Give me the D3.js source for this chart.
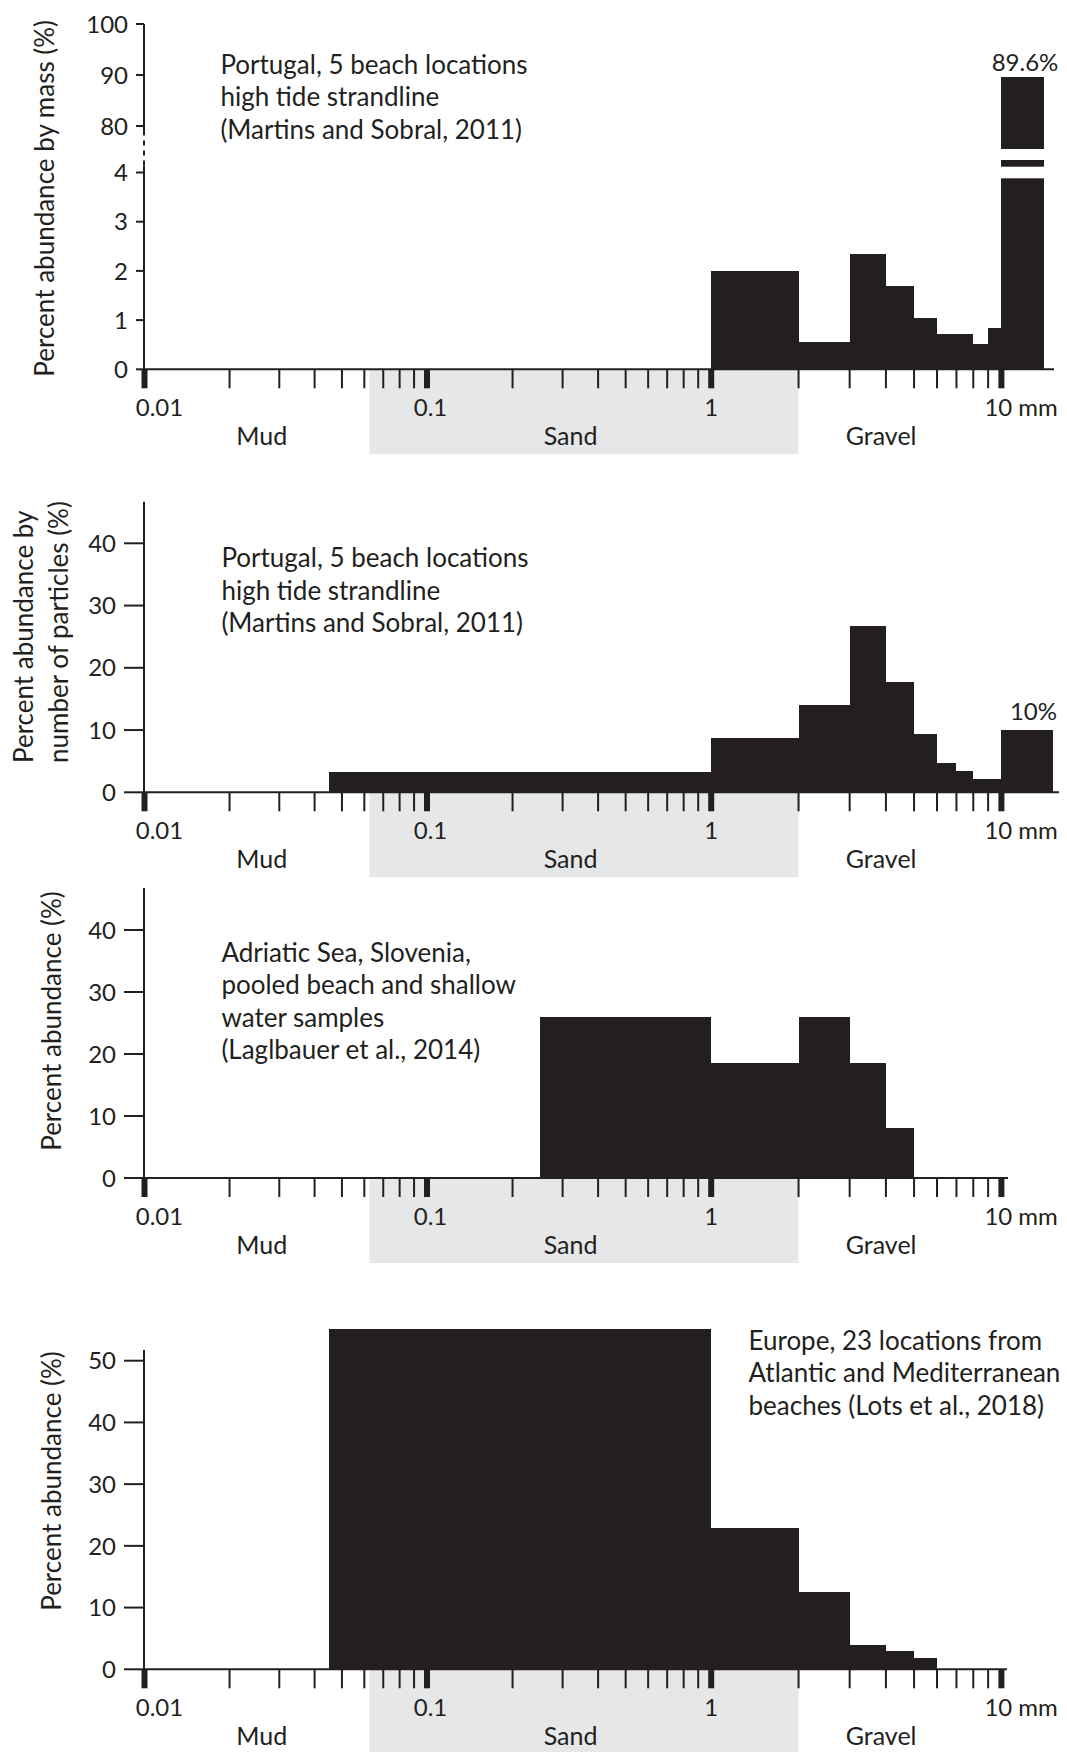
<!DOCTYPE html>
<html>
<head>
<meta charset="utf-8">
<script src="https://cdn.jsdelivr.net/npm/d3@7"></script>
<style>
  body { margin: 0; background: #fff; }
  svg { display: block; }
  text { font-family: Lato, "Open Sans", sans-serif; fill: #231f20; }
</style>
</head>
<body>
<div id="chart"></div>
<script>
// particle size classes (mm)
const sizeClasses = ["Mud", "Sand", "Gravel"];
const sizeClassAt = [0.026, 0.32, 3.85];
const sandRange = [0.0625, 2];
const xTickLabels = ["0.01", "0.1", "1", "10 mm"];

// Portugal, by mass (Martins and Sobral, 2011)
const massEdges = [1, 2, 3, 4, 5, 6, 8, 9, 10, 14];
const massValues = [2.0, 0.56, 2.35, 1.69, 1.04, 0.72, 0.52, 0.84, 89.6];
const massTicks = [0, 1, 2, 3, 4, 80, 90, 100];

// Portugal, by number of particles (Martins and Sobral, 2011)
const countEdges = [0.045, 1, 2, 3, 4, 5, 6, 7, 8, 10, 15];
const countValues = [3.2, 8.7, 14.1, 26.7, 17.7, 9.4, 4.7, 3.4, 2.2, 10];

// Adriatic Sea, Slovenia (Laglbauer et al., 2014)
const sloveniaEdges = [0.25, 1, 2, 3, 4, 5];
const sloveniaValues = [25.9, 18.5, 25.9, 18.5, 8.0];

// Europe, 23 locations (Lots et al., 2018)
const europeEdges = [0.045, 1, 2, 3, 4, 5, 6];
const europeValues = [55.1, 22.9, 12.5, 3.9, 3.0, 1.8];

const ticks40 = [0, 10, 20, 30, 40];
const ticks50 = [0, 10, 20, 30, 40, 50];

const INK = "#231f20";
const SAND = "#e6e7e8";
const AXIS_X = 144;

const panels = [
  { edges: massEdges, values: massValues, ticks: massTicks,
    yDomain: [0, 4, 80, 100], yRange: [369.3, 172.5, 126, 24], axisTop: 24, tickLen: 8,
    axisEnd: 1054, broken: true, barLabel: { text: "89.6%", dx: 2.4, dy: -6 },
    title: ["Percent abundance by mass (%)"], titleX: [54], titleY: 198.3, titleAnchor: "middle",
    note: ["Portugal, 5 beach locations", "high tide strandline", "(Martins and Sobral, 2011)"],
    noteX: 220.4, noteY: 74 },
  { edges: countEdges, values: countValues, ticks: ticks40,
    yDomain: [0, 40], yRange: [792.3, 543.3], axisTop: 501.7, tickLen: 20,
    axisEnd: 1059, barLabel: { text: "10%", dx: 6.5, dy: -10 },
    title: ["Percent abundance by", "number of particles (%)"], titleX: [32.8, 67.8], titleY: 763, titleAnchor: "start",
    note: ["Portugal, 5 beach locations", "high tide strandline", "(Martins and Sobral, 2011)"],
    noteX: 221.4, noteY: 567.3 },
  { edges: sloveniaEdges, values: sloveniaValues, ticks: ticks40,
    yDomain: [0, 40], yRange: [1178, 930], axisTop: 888, tickLen: 20,
    axisEnd: 1008,
    title: ["Percent abundance (%)"], titleX: [61], titleY: 1021, titleAnchor: "middle",
    note: ["Adriatic Sea, Slovenia,", "pooled beach and shallow", "water samples", "(Laglbauer et al., 2014)"],
    noteX: 221.4, noteY: 961.7 },
  { edges: europeEdges, values: europeValues, ticks: ticks50,
    yDomain: [0, 50], yRange: [1669.3, 1360.7], axisTop: 1350, tickLen: 20,
    axisEnd: 1007,
    title: ["Percent abundance (%)"], titleX: [61], titleY: 1481, titleAnchor: "middle",
    note: ["Europe, 23 locations from", "Atlantic and Mediterranean", "beaches (Lots et al., 2018)"],
    noteX: 748.5, noteY: 1350 }
];

const svg = d3.select("#chart").append("svg")
    .attr("width", 1067)
    .attr("height", 1752);

// the printed decades are not quite equal, so one range stop per decade
const x = d3.scaleLog().domain([0.01, 0.1, 1, 10]).range([144.5, 427, 711.2, 1001.4]);
const xTicks = x.ticks();
const majorTicks = [0.01, 0.1, 1, 10];
const labelDx = [15, 3.5, 0, -17];

panels.forEach(drawPanel);

function drawPanel(p) {
    const y = d3.scaleLinear().domain(p.yDomain).range(p.yRange);
    const base = y(0);
    const g = svg.append("g");

    // sand band under the axis
    g.append("rect")
        .attr("x", x(sandRange[0]))
        .attr("width", x(sandRange[1]) - x(sandRange[0]))
        .attr("y", base)
        .attr("height", 85)
        .attr("fill", SAND);

    const bins = p.values.map((v, i) => ({ x0: p.edges[i], x1: p.edges[i + 1], v }));

    g.selectAll("rect.bar")
        .data(bins)
        .join("rect")
        .attr("class", "bar")
        .attr("x", d => x(d.x0))
        .attr("width", d => x(d.x1) - x(d.x0))
        .attr("y", d => y(d.v))
        .attr("height", d => base - y(d.v))
        .attr("fill", INK)
        .attr("shape-rendering", "crispEdges");

    if (p.broken) {
        // white cuts through the bar that runs over the scale break
        const y4 = y(p.yDomain[1]);
        const tall = bins.filter(d => d.v > p.yDomain[1]);
        [[-23.5, -12.5], [-5.8, 5.8]].forEach(([a, b]) => {
            g.selectAll(null)
                .data(tall)
                .join("rect")
                .attr("x", d => x(d.x0) - 1)
                .attr("width", d => x(d.x1) - x(d.x0) + 2)
                .attr("y", y4 + a)
                .attr("height", b - a)
                .attr("fill", "#fff");
        });
    }

    if (p.barLabel) {
        const last = bins[bins.length - 1];
        g.append("text")
            .attr("x", (x(last.x0) + x(last.x1)) / 2 + p.barLabel.dx)
            .attr("y", y(last.v) + p.barLabel.dy)
            .attr("text-anchor", "middle")
            .attr("font-size", 24)
            .text(p.barLabel.text);
    }

    // y axis
    if (p.broken) {
        const y4 = y(p.yDomain[1]), y80 = y(p.yDomain[2]);
        g.append("line").attr("x1", AXIS_X).attr("x2", AXIS_X)
            .attr("y1", base + 1).attr("y2", y4 - 7)
            .attr("stroke", INK).attr("stroke-width", 2);
        g.append("line").attr("x1", AXIS_X).attr("x2", AXIS_X)
            .attr("y1", y4 - 7).attr("y2", y80 + 5)
            .attr("stroke", INK).attr("stroke-width", 2)
            .attr("stroke-dasharray", "5,5");
        g.append("line").attr("x1", AXIS_X).attr("x2", AXIS_X)
            .attr("y1", y80 + 5).attr("y2", p.axisTop)
            .attr("stroke", INK).attr("stroke-width", 2);
    } else {
        g.append("line").attr("x1", AXIS_X).attr("x2", AXIS_X)
            .attr("y1", base + 1).attr("y2", p.axisTop)
            .attr("stroke", INK).attr("stroke-width", 2);
    }

    g.selectAll("line.ytick")
        .data(p.ticks)
        .join("line")
        .attr("class", "ytick")
        .attr("x1", AXIS_X - p.tickLen)
        .attr("x2", AXIS_X)
        .attr("y1", d => y(d))
        .attr("y2", d => y(d))
        .attr("stroke", INK)
        .attr("stroke-width", 2);

    g.selectAll("text.ytick")
        .data(p.ticks)
        .join("text")
        .attr("class", "ytick")
        .attr("x", AXIS_X - p.tickLen - 8)
        .attr("y", d => y(d))
        .attr("dy", "0.36em")
        .attr("text-anchor", "end")
        .attr("font-size", 24)
        .text(d => d);

    // x axis
    g.append("line")
        .attr("x1", AXIS_X).attr("x2", p.axisEnd)
        .attr("y1", base).attr("y2", base)
        .attr("stroke", INK).attr("stroke-width", 2);

    g.selectAll("line.xtick")
        .data(xTicks)
        .join("line")
        .attr("class", "xtick")
        .attr("x1", d => x(d)).attr("x2", d => x(d))
        .attr("y1", base).attr("y2", base + 19)
        .attr("stroke", INK)
        .attr("stroke-width", d => majorTicks.includes(+d.toPrecision(6)) ? 6 : 2);

    g.selectAll("text.xtick")
        .data(majorTicks)
        .join("text")
        .attr("class", "xtick")
        .attr("x", (d, i) => x(d) + labelDx[i])
        .attr("y", base + 46.5)
        .attr("text-anchor", (d, i) => i === 3 ? "start" : "middle")
        .attr("font-size", 24)
        .text((d, i) => xTickLabels[i]);

    g.selectAll("text.sizeclass")
        .data(sizeClasses)
        .join("text")
        .attr("class", "sizeclass")
        .attr("x", (d, i) => x(sizeClassAt[i]))
        .attr("y", base + 75.5)
        .attr("text-anchor", "middle")
        .attr("font-size", 25)
        .text(d => d);

    // y axis title
    p.title.forEach((t, i) => {
        g.append("text")
            .attr("transform", `translate(${p.titleX[i]},${p.titleY}) rotate(-90)`)
            .attr("text-anchor", p.titleAnchor)
            .attr("font-size", 26)
            .text(t);
    });

    // source note
    g.selectAll("text.note")
        .data(p.note)
        .join("text")
        .attr("class", "note")
        .attr("x", p.noteX)
        .attr("y", (d, i) => p.noteY + i * 32.4)
        .attr("font-size", 26)
        .text(d => d);
}
</script>
</body>
</html>
